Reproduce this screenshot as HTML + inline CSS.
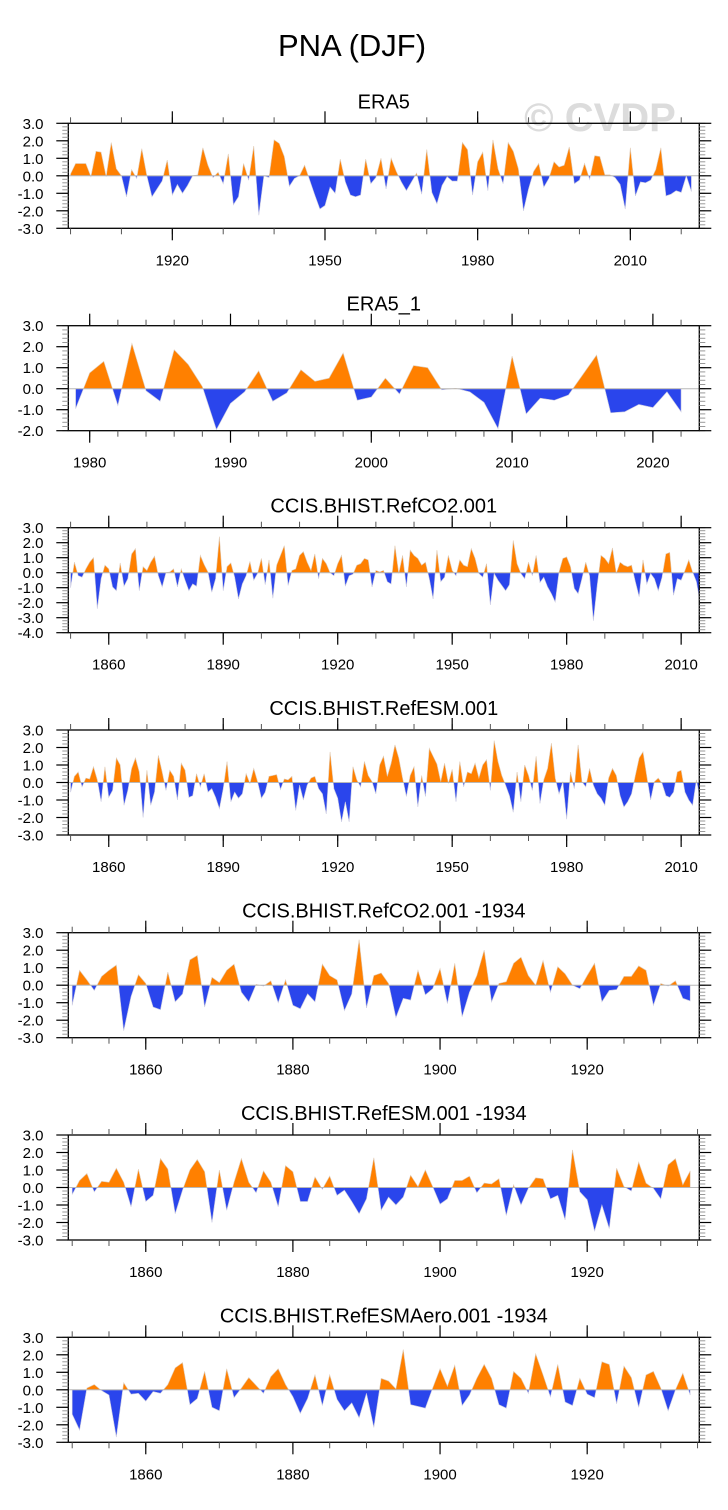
<!DOCTYPE html>
<html><head><meta charset="utf-8"><title>PNA (DJF)</title>
<style>
html,body{margin:0;padding:0;background:#fff;}
svg{display:block;font-family:"Liberation Sans",sans-serif;}
</style></head>
<body>
<svg id="fig" width="728" height="1510" viewBox="0 0 728 1510" xmlns="http://www.w3.org/2000/svg">
<text x="352" y="56" font-size="31" text-anchor="middle" fill="#000">PNA (DJF)</text>
<text x="600" y="131" font-size="40" font-weight="bold" text-anchor="middle" fill="#dcdcdc">© CVDP</text>
</svg>
<script>
// ---- data (PNA index values, one per DJF season) ----
const era5Start = 1900;
const era5Values = [0.1,0.7,0.7,0.7,-0.05,1.4,1.35,-0.05,1.9,0.4,0.0,-1.2,0.35,-0.15,1.55,0.0,-1.2,-0.75,-0.3,0.9,
-1.1,-0.5,-1.0,-0.55,0.0,0.05,1.6,0.6,-0.1,0.2,-0.45,1.25,-1.65,-1.2,0.7,-0.25,1.7,-2.25,0.0,-0.1,
2.05,1.85,1.1,-0.6,-0.15,0.0,0.6,-0.25,-1.1,-1.9,-1.7,-0.65,-1.0,0.95,-0.35,-1.1,-1.2,-1.1,0.95,-0.45,
-0.1,1.0,-0.75,1.0,0.25,-0.35,-0.85,-0.35,0.15,-1.05,1.5,-0.95,-1.6,-0.55,-0.05,-0.3,-0.3,1.9,1.5,-1.1,
0.8,1.35,-0.85,2.05,0.4,-0.45,1.9,1.4,0.4,-2.0,-0.75,0.25,0.7,-0.65,-0.15,0.8,0.5,0.6,1.65,-0.45,
-0.25,0.7,-0.2,1.15,1.1,0.05,0.05,-0.1,-0.5,-1.9,1.6,-1.15,-0.35,-0.4,-0.25,0.35,1.6,-1.15,-1.05,-0.85,
-0.95,0.0,-0.9];

const era51Start = 1979;
const era51Values = [-0.95,0.75,1.3,-0.8,2.15,-0.1,-0.6,1.85,1.15,0.1,-1.95,-0.7,-0.15,0.85,-0.6,-0.2,0.9,0.35,0.5,1.7,
-0.55,-0.4,0.5,-0.25,1.1,1.0,-0.05,0.02,-0.15,-0.65,-1.9,1.55,-1.2,-0.45,-0.55,-0.3,0.65,1.6,-1.15,-1.1,
-0.75,-0.9,-0.15,-1.1];

const co2Start = 1850;
const co2Values = [-1.0,0.7,-0.2,-0.3,0.25,0.7,1.0,-2.4,-0.4,0.5,0.25,-0.95,-1.2,0.65,-0.9,-0.4,1.25,1.6,-1.2,0.4,
0.15,0.7,1.1,-0.2,-0.95,0.0,0.05,0.25,-0.95,0.25,-0.5,-1.2,-0.75,-0.9,1.15,0.55,0.05,-1.3,-0.4,2.4,
-1.2,0.4,0.65,-0.3,-1.75,-0.75,-0.2,0.75,-0.5,-0.05,0.95,-0.8,0.85,-1.7,0.5,1.15,1.8,-0.85,0.15,0.25,
1.15,1.4,0.7,0.15,1.25,-0.4,0.95,0.6,0.0,-0.2,0.6,1.15,-0.9,-0.2,-0.1,0.5,0.6,0.95,0.85,-0.95,
0.15,0.05,0.15,-0.6,-0.75,1.8,-0.05,1.15,-0.95,1.5,1.15,0.95,0.5,0.7,-0.4,-1.75,1.5,-0.6,-0.3,1.15,
0.15,-0.2,0.85,0.5,0.4,1.6,0.95,-0.05,-0.3,0.6,-2.15,-0.05,-0.5,-0.85,-1.2,-0.8,2.15,0.6,-0.05,-0.4,
0.7,-0.2,1.15,-0.65,-0.3,-0.95,-1.4,-1.95,0.05,0.95,1.05,0.4,-1.05,-1.4,-0.4,0.7,-0.2,-3.2,-0.85,1.15,
0.95,0.6,1.65,-0.05,0.7,0.5,0.4,0.5,-0.6,-1.6,0.85,-0.75,-0.05,-0.4,-1.2,-0.3,1.25,1.35,-1.5,-0.4,
-0.5,0.15,0.85,0.05,-0.6,-2.05];

const esmStart = 1850;
const esmValues = [-0.55,0.35,0.6,-0.25,0.25,0.2,0.9,0.15,-1.1,0.9,-0.85,-0.45,1.4,1.0,-1.3,-0.45,0.8,1.4,0.6,-2.0,
0.7,-1.3,-0.55,1.55,0.6,-0.45,0.7,0.35,-1.0,1.1,0.7,-0.85,-0.75,0.5,-0.25,0.5,-0.55,-0.35,-0.85,-1.5,
-0.35,1.2,-1.1,-0.55,-0.9,-0.65,0.5,-0.05,0.8,0.05,-0.9,-0.55,0.35,0.4,0.45,-0.4,0.2,0.15,0.35,-1.6,
-0.15,-1.0,-0.15,0.25,0.35,-0.35,-0.65,-1.8,1.75,-0.35,-0.9,-2.25,-1.1,-2.25,0.9,0.15,-0.25,1.2,0.4,0.05,
-0.65,1.0,1.5,0.35,1.1,2.15,1.4,0.25,-0.8,0.4,0.9,-1.4,0.4,-0.8,1.95,1.5,1.05,0.05,1.1,-0.05,
0.75,-1.1,1.2,-0.25,0.6,0.5,1.1,0.25,1.0,1.3,-0.45,2.4,1.2,0.4,-0.15,-0.75,-1.7,0.6,-1.1,1.0,
0.4,-0.45,1.5,-1.2,0.15,0.8,2.25,0.25,-0.65,0.05,-2.1,0.6,-0.35,2.15,0.05,-0.25,0.8,-0.15,-0.65,-0.9,
-1.3,0.25,0.8,0.4,-0.75,-1.4,-1.1,-0.65,0.4,1.4,1.75,0.35,-1.0,0.05,0.25,-0.05,-0.75,-0.85,-0.55,0.6,
0.7,-0.55,-1.0,-1.3,0.15,-1.0];

const co2b1934Start = 1850;
const co2b1934Values = [-1.15,0.85,0.3,-0.3,0.5,0.85,1.15,-2.6,-0.65,0.6,0.1,-1.25,-1.4,0.75,-0.95,-0.5,1.45,1.7,-1.25,0.45,
0.15,0.85,1.2,-0.4,-0.95,0.05,-0.05,0.25,-1.0,0.3,-1.15,-1.35,-0.5,-0.95,1.2,0.55,0.3,-1.45,-0.5,2.6,
-1.3,0.55,0.7,0.1,-1.85,-0.75,-0.85,0.85,-0.55,-0.2,0.95,-1.05,1.25,-1.8,-0.4,0.55,2.0,-0.95,0.1,0.2,
1.25,1.6,0.55,0.0,1.4,-0.4,1.05,0.65,0.0,-0.2,0.55,1.25,-0.95,-0.3,-0.25,0.5,0.5,1.1,0.85,-1.15,
0.1,-0.05,0.25,-0.75,-0.9];

const esmb1934Start = 1850;
const esmb1934Values = [-0.4,0.4,0.8,-0.25,0.35,0.3,1.1,0.3,-1.1,1.05,-0.8,-0.45,1.65,1.05,-1.5,-0.15,1.0,1.6,0.9,-2.0,
1.0,-1.3,0.3,1.65,0.3,-0.3,0.95,0.3,-1.1,1.25,0.9,-0.8,-0.8,0.6,-0.1,0.65,-0.45,-0.15,-0.8,-1.5,
-0.65,1.7,-1.3,-0.55,-1.0,-0.55,0.7,0.05,1.0,0.05,-0.95,-0.65,0.4,0.4,0.65,-0.3,0.25,0.2,0.5,-1.6,
0.15,-1.0,-0.05,0.55,0.5,-0.65,-0.45,-1.85,2.15,-0.25,-0.7,-2.5,-1.0,-2.35,1.1,0.05,-0.2,1.45,0.25,-0.05,
-0.65,1.3,1.65,0.15,0.95];

const aeroStart = 1850;
const aeroValues = [-1.4,-2.3,0.1,0.3,-0.05,-0.3,-2.7,0.4,-0.25,-0.2,-0.65,-0.1,-0.2,0.3,1.25,1.55,-0.85,-0.5,1.05,-1.0,
-1.2,1.2,-0.45,0.1,0.7,0.25,-0.2,0.75,1.2,0.3,-0.4,-1.35,-0.5,0.85,-0.9,0.85,-0.55,-1.2,-0.75,-1.6,
-0.2,-2.15,0.65,0.5,0.05,2.3,-0.85,-0.95,-1.05,0.1,1.2,0.2,1.4,-0.9,-0.3,0.65,1.45,0.65,-0.85,-1.05,
1.05,0.65,-0.2,2.05,0.85,-0.4,1.45,-0.7,-0.9,0.65,-0.25,-0.45,1.6,1.45,-0.8,1.35,0.7,-1.0,0.85,1.05,
0.1,-1.2,0.0,0.95,-0.3];

// y-axis tick values
const ticksM3P3 = [-3,-2,-1,0,1,2,3];
const ticksM2P3 = [-2,-1,0,1,2,3];
const ticksM4P3 = [-4,-3,-2,-1,0,1,2,3];
// x-axis labelled years
const xLabels1 = [1920,1950,1980,2010];
const xLabels2 = [1980,1990,2000,2010,2020];
const xLabels3 = [1860,1890,1920,1950,1980,2010];
const xLabels5 = [1860,1880,1900,1920];
</script>
<script>
const NS = "http://www.w3.org/2000/svg";
const svg = document.getElementById('fig');
const L = 68.3, R = 699.3, H = 105;

const panels = [
 {name:'era5', title:'ERA5', top:123.3, x0:1899.56, ppy:5.089, ymin:-3, ymax:3, yt:ticksM3P3, xl:xLabels1, minor:10, start:era5Start, vals:era5Values},
 {name:'era5-1', title:'ERA5_1', top:325.7, x0:1978.48, ppy:14.08, ymin:-2, ymax:3, yt:ticksM2P3, xl:xLabels2, minor:2, start:era51Start, vals:era51Values},
 {name:'refco2', title:'CCIS.BHIST.RefCO2.001', top:527.7, x0:1849.4, ppy:3.816, ymin:-4, ymax:3, yt:ticksM4P3, xl:xLabels3, minor:10, start:co2Start, vals:co2Values},
 {name:'refesm', title:'CCIS.BHIST.RefESM.001', top:730.0, x0:1849.4, ppy:3.816, ymin:-3, ymax:3, yt:ticksM3P3, xl:xLabels3, minor:10, start:esmStart, vals:esmValues},
 {name:'refco2-1934', title:'CCIS.BHIST.RefCO2.001 -1934', top:932.7, x0:1849.47, ppy:7.357, ymin:-3, ymax:3, yt:ticksM3P3, xl:xLabels5, minor:5, start:co2b1934Start, vals:co2b1934Values},
 {name:'refesm-1934', title:'CCIS.BHIST.RefESM.001 -1934', top:1135, x0:1849.47, ppy:7.357, ymin:-3, ymax:3, yt:ticksM3P3, xl:xLabels5, minor:5, start:esmb1934Start, vals:esmb1934Values},
 {name:'refesmaero-1934', title:'CCIS.BHIST.RefESMAero.001 -1934', top:1337.3, x0:1849.47, ppy:7.357, ymin:-3, ymax:3, yt:ticksM3P3, xl:xLabels5, minor:5, start:aeroStart, vals:aeroValues}
];

function mk(tag, attrs, parent){
  const e = document.createElementNS(NS, tag);
  for (const k in attrs) e.setAttribute(k, attrs[k]);
  (parent||svg).appendChild(e);
  return e;
}

panels.forEach((p, pi) => {
  const g = mk('g', {});
  
  
  const top = p.top, bot = top + H;
  const xs = yr => L + (yr - p.x0) * p.ppy;
  const ys = v => bot - (v - p.ymin) / (p.ymax - p.ymin) * H;
  const y0 = ys(0);
  const xEnd = p.x0 + (R - L) / p.ppy;

  // title
  const t = mk('text', {x:(L+R)/2, y:top-15, 'font-size':20, 'text-anchor':'middle', fill:'#000'}, g);
  t.textContent = p.title;
  
  

  // clip paths
  const cid = 'clip' + pi;
  const defs = mk('defs', {}, g);
  const cpPos = mk('clipPath', {id:cid+'p'}, defs);
  mk('rect', {x:L, y:top, width:R-L, height:y0-top}, cpPos);
  const cpNeg = mk('clipPath', {id:cid+'n'}, defs);
  mk('rect', {x:L, y:y0, width:R-L, height:bot-y0}, cpNeg);

  // area polygon
  let pts = [];
  pts.push(xs(p.start).toFixed(2) + ',' + y0.toFixed(2));
  p.vals.forEach((v, i) => { pts.push(xs(p.start+i).toFixed(2) + ',' + ys(v).toFixed(2)); });
  pts.push(xs(p.start+p.vals.length-1).toFixed(2) + ',' + y0.toFixed(2));
  const ptsStr = pts.join(' ');
  const pos = mk('polygon', {points:ptsStr, fill:'#ff8000', stroke:'#e0c8b0', 'stroke-width':0.6, 'clip-path':'url(#'+cid+'p)'}, g);
  
  
  const neg = mk('polygon', {points:ptsStr, fill:'#2a45ec', stroke:'#c8c8e0', 'stroke-width':0.6, 'clip-path':'url(#'+cid+'n)'}, g);
  
  

  // zero line
  const zl = mk('line', {x1:L, x2:R, y1:y0, y2:y0, stroke:'#b8b8b8', 'stroke-width':1}, g);
  
  

  // frame
  const fr = mk('rect', {x:L, y:top, width:R-L, height:H, fill:'none', stroke:'#000', 'stroke-width':1.3}, g);
  
  

  // y minor ticks
  const yax = mk('g', {}, g);
  
  
  for (let v = p.ymin; v <= p.ymax + 1e-6; v += 0.2) {
    const yy = ys(v);
    mk('line', {x1:L-6, x2:L, y1:yy, y2:yy, stroke:'#999', 'stroke-width':1}, yax);
    mk('line', {x1:R, x2:R+6, y1:yy, y2:yy, stroke:'#999', 'stroke-width':1}, yax);
  }
  p.yt.forEach(v => {
    const yy = ys(v);
    mk('line', {x1:L-12, x2:L, y1:yy, y2:yy, stroke:'#000', 'stroke-width':1.2}, yax);
    mk('line', {x1:R, x2:R+12, y1:yy, y2:yy, stroke:'#000', 'stroke-width':1.2}, yax);
    const tl = mk('text', {x:43.5, y:yy+5.5, 'font-size':15, 'text-anchor':'end', fill:'#000'}, yax);
    tl.textContent = v.toFixed(1);
    
    
  });

  // x ticks
  const xax = mk('g', {}, g);
  
  
  for (let yr = Math.ceil(p.x0 / p.minor) * p.minor; yr <= xEnd; yr += p.minor) {
    const xx = xs(yr);
    mk('line', {x1:xx, x2:xx, y1:bot, y2:bot+6, stroke:'#555', 'stroke-width':1}, xax);
    mk('line', {x1:xx, x2:xx, y1:top-6, y2:top, stroke:'#555', 'stroke-width':1}, xax);
  }
  p.xl.forEach(yr => {
    const xx = xs(yr);
    mk('line', {x1:xx, x2:xx, y1:bot, y2:bot+12, stroke:'#000', 'stroke-width':1.2}, xax);
    mk('line', {x1:xx, x2:xx, y1:top-12, y2:top, stroke:'#000', 'stroke-width':1.2}, xax);
    const tl = mk('text', {x:xx, y:bot+37, 'font-size':15, 'text-anchor':'middle', fill:'#000'}, xax);
    tl.textContent = yr;
    
    
  });
});
</script>
</body></html>
